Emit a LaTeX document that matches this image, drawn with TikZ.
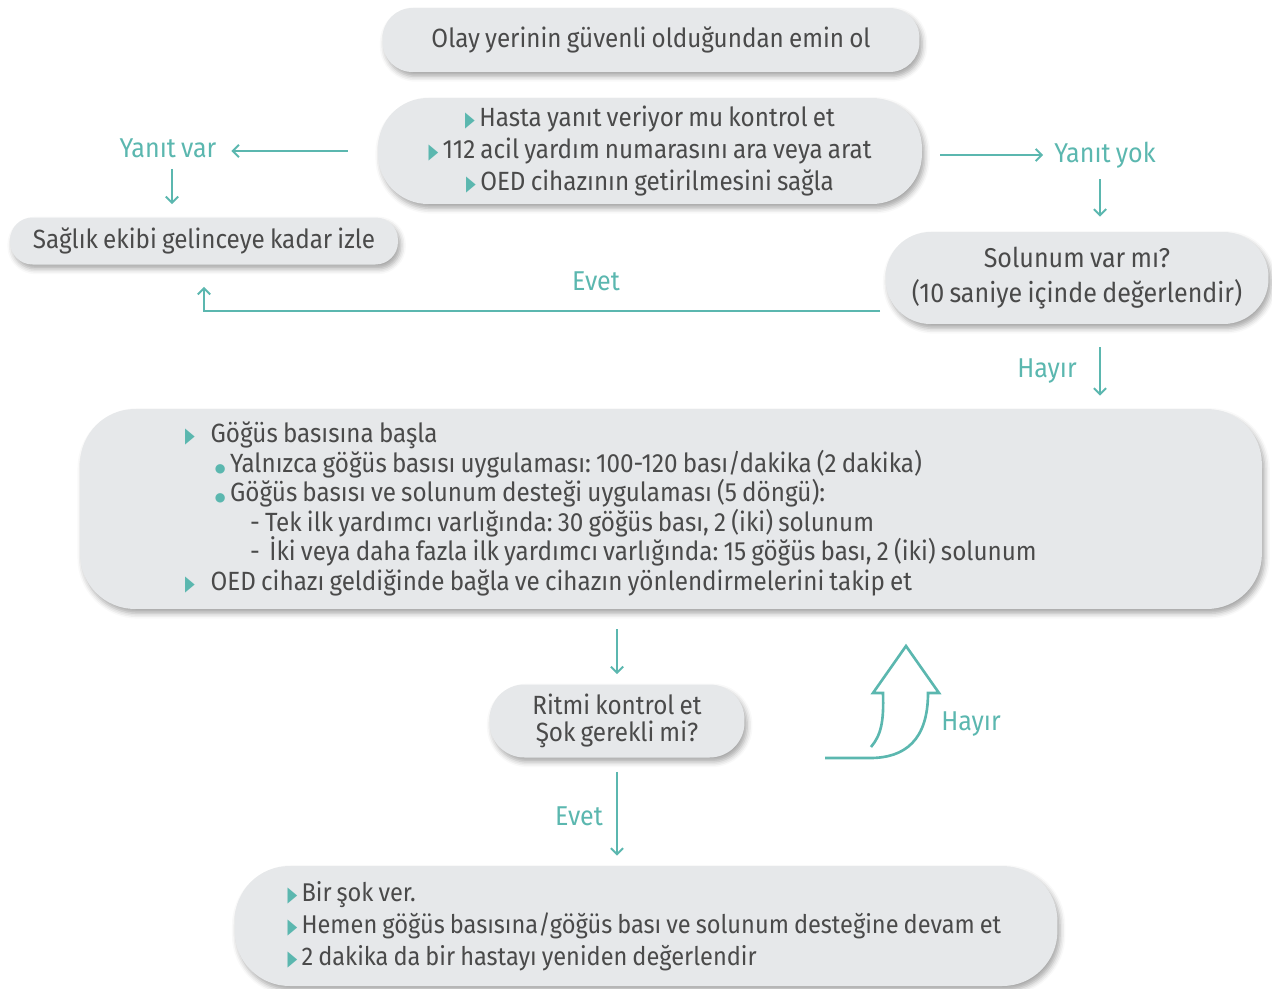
\documentclass[tikz,border=0pt]{standalone}
\usepackage{fontspec}
\setmainfont{Fira Sans}[FakeStretch=0.92, WordSpace=0.8]
\newfontfamily\symfont{DejaVu Sans}
\usetikzlibrary{arrows.meta,shadows.blur}

\definecolor{turkuaz}{HTML}{5BB7AF}
\definecolor{kutu}{HTML}{E6E8EA}
\definecolor{yazi}{HTML}{4A4A4A}

\newcommand{\ucgen}{{\symfont\fontsize{12}{12}\selectfont\textcolor{turkuaz}{\scalebox{0.6}[1]{▶}}}}
\newcommand{\nokta}{{\symfont\fontsize{7}{7}\selectfont\textcolor{turkuaz}{●}}}

\tikzset{
  kutu/.style={fill=kutu, text=yazi, align=center, inner sep=0pt,
    blur shadow={shadow xshift=1.5pt, shadow yshift=-2.5pt, shadow blur radius=3pt, shadow opacity=35}},
  ok/.style={draw=turkuaz, line width=1.1pt, -{Straight Barb[length=3.5pt,width=7pt]}},
  etiket/.style={text=turkuaz, font=\fontsize{15.5}{18}\selectfont}
}

\begin{document}
\frenchspacing
\begin{tikzpicture}[x=0.02cm, y=-0.02cm, font=\fontsize{15}{17}\selectfont]
  \useasboundingbox (0,0) rectangle (1272,988);
  % kutular
  \node[kutu, rounded corners=0.6cm, minimum width=10.74cm, minimum height=1.28cm] (guvenli) at (651,40)
    {Olay yerinin güvenli olduğundan emin ol};
  \node[kutu, rounded corners=1cm, minimum width=10.88cm, minimum height=2.12cm,
    font=\fontsize{15}{18.2}\selectfont] (kontrol) at (650,151)
    {\ucgen\,Hasta yanıt veriyor mu kontrol et\\
     \ucgen\,112 acil yardım numarasını ara veya arat\\
     \ucgen\,OED cihazının getirilmesini sağla};
  \node[kutu, rounded corners=0.45cm, minimum width=7.76cm, minimum height=0.94cm] (izle) at (204,241)
    {Sağlık ekibi gelinceye kadar izle};
  \node[kutu, rounded corners=0.9cm, minimum width=7.66cm, minimum height=1.84cm,
    font=\fontsize{15.5}{19.5}\selectfont] (solunum) at (1077,278)
    {Solunum var mı?\\(10 saniye içinde değerlendir)};
  \node[kutu, rounded corners=1.1cm, minimum width=23.64cm, minimum height=4cm,
    text width=19.44cm, align=flush left, font=\fontsize{15}{16.8}\selectfont] (basla) at (671,509)
    {\ucgen\hspace{9pt}Göğüs basısına başla\\
     \hspace{17pt}\nokta\,Yalnızca göğüs basısı uygulaması: 100-120 bası/dakika (2 dakika)\\
     \hspace{17pt}\nokta\,Göğüs basısı ve solunum desteği uygulaması (5 döngü):\\
     \hspace{37pt}- Tek ilk yardımcı varlığında: 30 göğüs bası, 2 (iki) solunum\\
     \hspace{37pt}-\,\ İki veya daha fazla ilk yardımcı varlığında: 15 göğüs bası, 2 (iki) solunum\\
     \ucgen\hspace{9pt}OED cihazı geldiğinde bağla ve cihazın yönlendirmelerini takip et};
  \node[kutu, rounded corners=0.7cm, minimum width=5.1cm, minimum height=1.46cm,
    font=\fontsize{15}{15}\selectfont] (ritim) at (617,721)
    {Ritmi kontrol et\\Şok gerekli mi?};
  \node[kutu, rounded corners=1.1cm, minimum width=16.46cm, minimum height=2.4cm,
    text width=14.34cm, align=flush left, font=\fontsize{14.6}{18.2}\selectfont] (sok) at (646,926)
    {\mbox{\ucgen\,Bir şok ver.}\\
     \mbox{\ucgen\,Hemen göğüs basısına/göğüs bası ve solunum desteğine devam et}\\
     \mbox{\ucgen\,2 dakika da bir hastayı yeniden değerlendir}};
  % etiketler
  \node[etiket] (yanitvar) at (168,148) {Yanıt var};
  \node[etiket] (yanityok) at (1105,155) {Yanıt yok};
  \node[etiket] (evet1) at (596,281) {Evet};
  \node[etiket] (hayir1) at (1047,371) {Hayır};
  \node[etiket] (hayir2) at (971,724) {Hayır};
  \node[etiket] (evet2) at (579,816) {Evet};
  % oklar
  \draw[ok, shorten <=17pt, shorten >=5pt] (kontrol.west) -- (kontrol.west -| yanitvar.east);
  \draw[ok, shorten <=0.1cm, shorten >=0.26cm] ([xshift=0.08cm]yanitvar.south) -- ([xshift=0.08cm]yanitvar.south |- izle.north);
  \draw[ok, shorten <=0.36cm, shorten >=0.1cm] (kontrol.east |- yanityok) -- (yanityok.west);
  \draw[ok, shorten <=0.1cm, shorten >=0.3cm] ([xshift=-0.1cm]yanityok.south) -- ([xshift=-0.1cm]yanityok.south |- solunum.north);
  \draw[ok] ([xshift=-0.1cm,yshift=-0.66cm]solunum.west) -| ([yshift=-0.44cm]izle.south);
  \draw[ok, shorten <=0.46cm, shorten >=0.26cm] ([xshift=0.46cm]solunum.south) -- ([xshift=0.46cm]solunum.south |- basla.north);
  \draw[ok, shorten <=0.4cm, shorten >=0.2cm] (ritim.north |- basla.south) -- (ritim.north);
  \draw[ok, shorten <=0.28cm, shorten >=0.2cm] (ritim.south) -- (ritim.south |- sok.north);
  % kivrik ok
  \draw[turkuaz, line width=1.5pt, line join=miter]
    (871,747) .. controls (881,735) and (884,722) .. (883,693)
    -- (873,693) -- (906,646) -- (939,693) -- (928,693)
    .. controls (928,740) and (905,758) .. (870,758) -- (825,758);
\end{tikzpicture}
\end{document}
